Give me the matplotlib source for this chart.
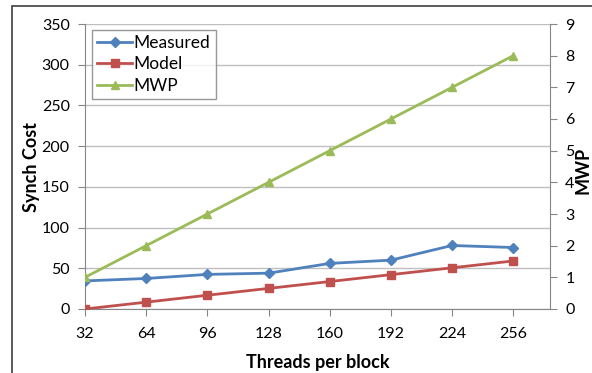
import matplotlib
matplotlib.use("Agg")
import matplotlib.pyplot as plt
from matplotlib.lines import Line2D
from matplotlib.patches import Rectangle

threads = [32, 64, 96, 128, 160, 192, 224, 256]
measured = [34.5, 37.5, 42.5, 44, 56, 60, 78, 75.5]
model = [0, 8.4, 16.9, 25.3, 33.7, 42.2, 50.6, 59]
mwp = [1, 2, 3, 4, 5, 6, 7, 8]

blue = "#4F81BD"
red = "#C0504D"
green = "#9BBB59"
axis_gray = "#868686"
grid_gray = "#BFBFBF"

plt.rcParams['font.family'] = ['Lato', 'DejaVu Sans']

fig = plt.figure(figsize=(5.92, 3.73), dpi=100)
W, H = 592, 373
ax = fig.add_axes([85 / W, 1 - 309 / H, (550 - 85) / W, (309 - 24) / H])
ax2 = ax.twinx()

x = list(range(len(threads)))
ax.plot(x, measured, color=blue, marker="D", markersize=5.5, lw=2, label="Measured", zorder=4)
ax.plot(x, model, color=red, marker="s", markersize=6, lw=2, label="Model", zorder=4)
ax2.plot(x, mwp, color=green, marker="^", markersize=6, lw=2, label="MWP", zorder=4)

ax.set_xlim(0, 7.6)
ax.set_ylim(0, 350)
ax.set_yticks(range(0, 351, 50))
ax2.set_ylim(0, 9)
ax2.set_yticks(range(0, 10))
ax.set_xticks(x)
ax.set_xticklabels([str(t) for t in threads])

ax.grid(axis="y", color=grid_gray, lw=1)
ax.set_axisbelow(True)

for a in (ax, ax2):
    for s in a.spines.values():
        s.set_visible(False)
ax.spines["left"].set_visible(True)
ax.spines["left"].set_color(axis_gray)
ax.spines["bottom"].set_visible(True)
ax.spines["bottom"].set_color(axis_gray)
ax2.spines["right"].set_visible(True)
ax2.spines["right"].set_color(axis_gray)

ax.tick_params(axis="y", colors=axis_gray, labelcolor="black", labelsize=11.5, length=5, pad=6)
ax.tick_params(axis="x", colors=axis_gray, labelcolor="black", labelsize=11.5, length=5, pad=8)
ax2.tick_params(axis="y", colors=axis_gray, labelcolor="black", labelsize=11.5, length=5, pad=6)

ax.set_ylabel("Synch Cost", fontsize=13, fontweight="bold", labelpad=1)
ax.set_xlabel("Threads per block", fontsize=13, fontweight="bold", labelpad=9)
fig.text(583 / W, 1 - 170 / H, "MWP", rotation=90, fontsize=13, fontweight="bold",
         ha="center", va="center")

handles = [
    Line2D([], [], color=blue, marker="D", markersize=5.5, lw=2),
    Line2D([], [], color=red, marker="s", markersize=6, lw=2),
    Line2D([], [], color=green, marker="^", markersize=6, lw=2),
]
leg = ax.legend(handles, ["Measured", "Model", "MWP"], loc="upper left",
                bbox_to_anchor=(7 / 465, 1 - 6 / 285), fontsize=12.5, frameon=True,
                fancybox=False, borderpad=0.3, handlelength=2.0, handletextpad=0.1,
                labelspacing=0.3, borderaxespad=0)
leg.get_frame().set_edgecolor("#7F7F7F")
leg.get_frame().set_linewidth(1)
leg.set_zorder(10)

fig.patches.append(Rectangle((12 / W, -0.1), 1.2, 1 - 6 / H + 0.1, transform=fig.transFigure,
                             fill=False, edgecolor="#404040", lw=1.2))

fig.savefig("out.png", dpi=100)
